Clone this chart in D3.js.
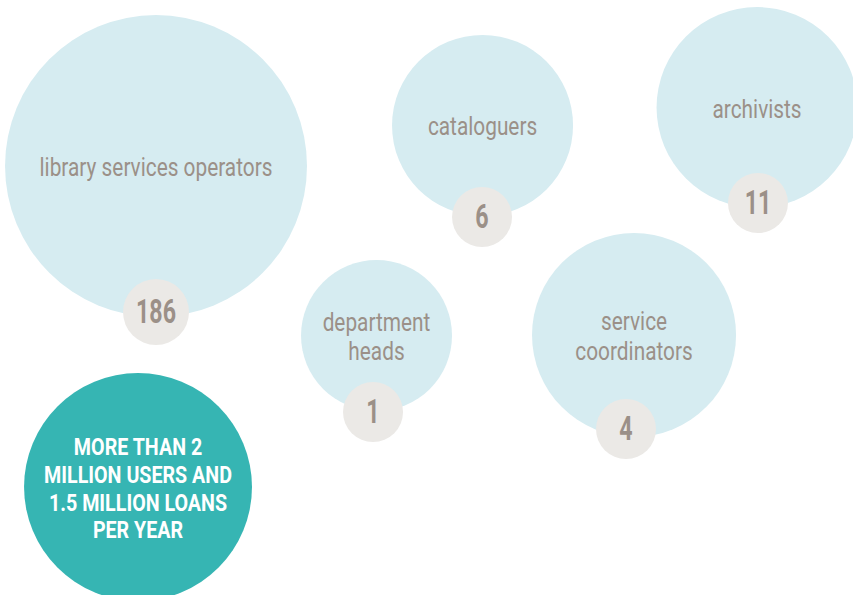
<!DOCTYPE html>
<html>
<head>
<meta charset="utf-8">
<script src="https://cdn.jsdelivr.net/npm/d3@7"></script>
<style>
  html, body { margin: 0; padding: 0; background: #ffffff; }
  svg { display: block; }
  text { font-family: "Roboto", "Liberation Sans", sans-serif; }
</style>
</head>
<body>
<svg id="chart" width="853" height="595"></svg>
<script>
// Staff roles and head counts
const roles = [
  ["library services operators"],
  ["cataloguers"],
  ["archivists"],
  ["department", "heads"],
  ["service", "coordinators"]
];
const counts = [186, 6, 11, 1, 4];

// Headline figure
const headline = ["MORE THAN 2", "MILLION USERS AND", "1.5 MILLION LOANS", "PER YEAR"];

// Bubble arrangement on a 0–100 layout grid: bubble centre/radius and badge centre
const layout = [
  { gx: 18.29, gy: 27.90, gr: 17.70, bxg: 18.29, byg: 52.44, big: true },
  { gx: 56.57, gy: 21.09, gr: 10.61, bxg: 56.51, byg: 36.47 },
  { gx: 88.75, gy: 18.07, gr: 11.78, bxg: 88.86, byg: 34.12 },
  { gx: 44.14, gy: 56.39, gr: 8.85,  bxg: 43.73, byg: 69.24 },
  { gx: 74.33, gy: 56.30, gr: 11.96, bxg: 73.39, byg: 72.10 }
];
const headlineLayout = { gx: 16.18, gy: 81.85, gr: 13.36 };

const W = 853, H = 595;
const x = d3.scaleLinear().domain([0, 100]).range([0, W]);
const y = d3.scaleLinear().domain([0, 100]).range([0, H]);
const r = d3.scaleLinear().domain([0, 100]).range([0, W]);

const svg = d3.select("#chart");

// Type styles; each is drawn horizontally condensed to a narrow gothic proportion
const styles = {
  label:    { size: 25, weight: 400, ref: "library services operators", refWidth: 233 },
  badge:    { size: 33, weight: 700, ref: "186", refWidth: 40 },
  headline: { size: 24, weight: 700, ref: "MILLION USERS AND", refWidth: 188 }
};
const probe = svg.append("text").attr("x", -1000).attr("y", -1000);
for (const s of Object.values(styles)) {
  probe.attr("font-size", s.size).attr("font-weight", s.weight).text(s.ref);
  s.k = s.refWidth / probe.node().getComputedTextLength();
}
probe.remove();

function condensedText(parent, lines, cx, cy, style, lineGap, fill) {
  const s = styles[style];
  const t = parent.append("text")
    .attr("transform", `translate(${cx},${cy}) scale(${s.k},1)`)
    .attr("text-anchor", "middle")
    .attr("font-size", s.size)
    .attr("font-weight", s.weight)
    .attr("fill", fill);
  const n = lines.length;
  lines.forEach((line, k) => {
    t.append("tspan").attr("x", 0).attr("y", (k - (n - 1) / 2) * lineGap).text(line);
  });
  return t;
}

const nodes = roles.map((lines, i) => ({ lines, count: counts[i], ...layout[i] }));

// Large pale bubbles with their role names
const g = svg.selectAll("g.role").data(nodes).join("g").attr("class", "role");

g.append("circle")
  .attr("cx", d => x(d.gx))
  .attr("cy", d => y(d.gy))
  .attr("r", d => r(d.gr))
  .attr("fill", "#d6ecf1");

g.each(function(d) {
  condensedText(d3.select(this), d.lines, x(d.gx), y(d.gy) + 10, "label", 29, "#9b9088");
});

// Count badges on the bubble rim
g.append("circle")
  .attr("cx", d => x(d.bxg))
  .attr("cy", d => y(d.byg))
  .attr("r", d => d.big ? 33 : 30)
  .attr("fill", "#ebe9e6");

g.each(function(d) {
  condensedText(d3.select(this), [String(d.count)], x(d.bxg), y(d.byg) + 11, "badge", 0, "#9b9088");
});

// Headline bubble
const hg = svg.append("g");
hg.append("circle")
  .attr("cx", x(headlineLayout.gx))
  .attr("cy", y(headlineLayout.gy))
  .attr("r", r(headlineLayout.gr))
  .attr("fill", "#36b5b3");

condensedText(hg, headline, x(headlineLayout.gx), y(headlineLayout.gy) + 9.5, "headline", 28, "#ffffff");
</script>
</body>
</html>
